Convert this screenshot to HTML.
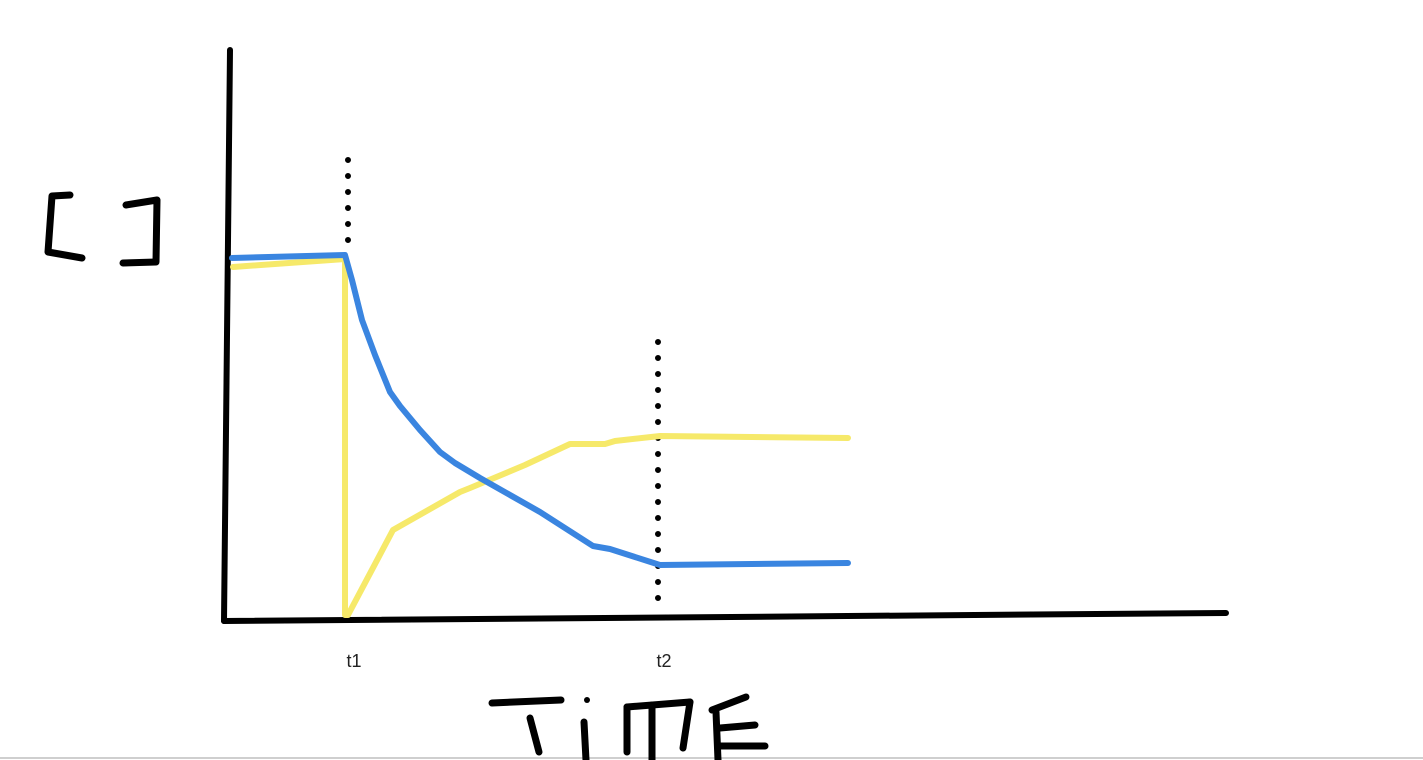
<!DOCTYPE html>
<html><head><meta charset="utf-8"><style>
html,body{margin:0;padding:0;background:#fff;width:1423px;height:760px;overflow:hidden}
text{font-family:"Liberation Sans",sans-serif}
</style></head><body>
<svg id="chart" width="1423" height="760" viewBox="0 0 1423 760" xmlns="http://www.w3.org/2000/svg">
<line x1="0" y1="758" x2="1423" y2="758" stroke="#cfcfcf" stroke-width="2"/>
<g fill="none" stroke="#000" stroke-width="7" stroke-linecap="round" stroke-linejoin="round">
<polyline points="70,195 52,196 48,252 82,258"/>
<polyline points="126,205 157,200 156,262 123,263"/>
</g>
<g fill="none" stroke="#000" stroke-width="7" stroke-linecap="round">
<line x1="492" y1="703" x2="561" y2="700"/>
<line x1="530" y1="718" x2="539" y2="752"/>
<circle cx="587" cy="700" r="3" fill="#000" stroke="none"/>
<line x1="584" y1="722" x2="586" y2="760"/>
<line x1="627" y1="707" x2="627" y2="752"/>
<line x1="627" y1="707" x2="690" y2="702"/>
<line x1="652" y1="705" x2="652" y2="760"/>
<line x1="690" y1="702" x2="683" y2="748"/>
<line x1="712" y1="710" x2="746" y2="697"/>
<line x1="716" y1="712" x2="718" y2="760"/>
<line x1="720" y1="728" x2="755" y2="725"/>
<line x1="720" y1="746" x2="765" y2="746"/>
</g>
<g id="plot"></g>
</svg>
<script>
const blueT=[7,120,127,137,150,165,175,195,215,230,255,315,368,385,435,623];
const blueV=[359,362,337,297,262,225,211,187,165,154,139,105,71,68,52,54];
const yellowT=[8,120,120,123,168,235,245,300,345,380,390,435,623];
const yellowV=[350,358,2,2,87,125,129,152,173,173,176,181,179];
const markerT=[123,433];
const markerTop=[457,275];
const markerBottom=[369,5];
const tickLabels=["t1","t2"];
const x=t=>225+t;
const y=v=>617-v;
const NS="http://www.w3.org/2000/svg";
const g=document.getElementById('plot');
function mk(tag,attrs){const e=document.createElementNS(NS,tag);for(const k in attrs)e.setAttribute(k,attrs[k]);g.appendChild(e);return e;}
const ya=mk('line',{x1:230,y1:50,x2:224,y2:621,stroke:'#000','stroke-width':6,'stroke-linecap':'round'});


const xa=mk('line',{x1:224,y1:621,x2:1226,y2:613,stroke:'#000','stroke-width':6,'stroke-linecap':'round'});


markerT.forEach((t,i)=>{
  const l=mk('line',{x1:x(t),y1:y(markerTop[i]),x2:x(t),y2:y(markerBottom[i]),stroke:'#000','stroke-width':6,'stroke-linecap':'round','stroke-dasharray':'0 16'});
  
  
  const tx=mk('text',{x:x(t)+6,y:667,'font-size':18,'text-anchor':'middle',fill:'#222'});
  tx.textContent=tickLabels[i];
  
  
});
function series(T,V,color,name){
  const p=mk('polyline',{points:T.map((t,i)=>x(t)+','+y(V[i])).join(' '),fill:'none',stroke:color,'stroke-width':6,'stroke-linecap':'round','stroke-linejoin':'round'});
  
  
}
series(yellowT,yellowV,'#f6e96a','yellow-series');
series(blueT,blueV,'#3a85e0','blue-series');
</script>
</body></html>
